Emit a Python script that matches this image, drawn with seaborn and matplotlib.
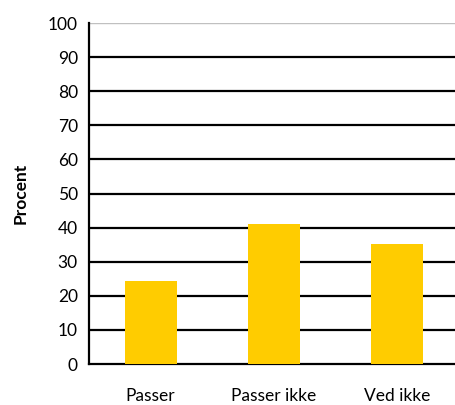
import numpy as np
import pandas as pd
import matplotlib
matplotlib.use("Agg")
import matplotlib.pyplot as plt
import seaborn as sns

categories = ["Passer", "Passer ikke", "Ved ikke"]
values = [24.3, 41.2, 35.3]
y_ticks = [0, 10, 20, 30, 40, 50, 60, 70, 80, 90, 100]

df = pd.DataFrame({"kategori": categories, "procent": values})

sns.set_style("white")
plt.rcParams["font.family"] = ["Lato", "DejaVu Sans"]
plt.rcParams["text.color"] = "black"
plt.rcParams["xtick.color"] = "black"
plt.rcParams["ytick.color"] = "black"
plt.rcParams["axes.labelcolor"] = "black"

fig = plt.figure(figsize=(4.55, 4.05), dpi=100)
ax = fig.add_axes([0.1956, 0.101, 0.813, 0.842])

sns.barplot(data=df, x="kategori", y="procent", color="#FFCC00",
            width=0.42, saturation=1, linewidth=0, ax=ax, zorder=3)

ax.set_ylim(0, 100)
ax.set_xlim(-0.5, 2.5)
ax.set_yticks(y_ticks)
ax.set_yticklabels([str(t) for t in y_ticks], fontsize=12.5)

# gridlines, top one grey
for t in y_ticks[1:]:
    ax.axhline(t, color="#C0C0C0" if t == 100 else "black", lw=1.6 if t < 100 else 1.0, zorder=1)

# x ticks at category boundaries, labels at centres
ax.set_xticks([-0.5, 0.5, 1.5, 2.5])
ax.set_xticklabels([])
ax.set_xticks([0, 1, 2], minor=True)
ax.set_xticklabels(categories, minor=True, fontsize=12.5)
ax.tick_params(axis="x", which="major", length=6, width=1.6, color="black", direction="out")
ax.tick_params(axis="x", which="minor", length=0, pad=17)
ax.tick_params(axis="y", length=5, width=1.6, color="black", direction="out", pad=3)

for s in ["top", "right"]:
    ax.spines[s].set_visible(False)
for s in ["left", "bottom"]:
    ax.spines[s].set_color("black")
    ax.spines[s].set_linewidth(1.6)

ax.set_xlabel("")
ax.set_ylabel("Procent", fontsize=12.5, fontweight="bold", labelpad=14)

fig.savefig("out.png", dpi=100)
